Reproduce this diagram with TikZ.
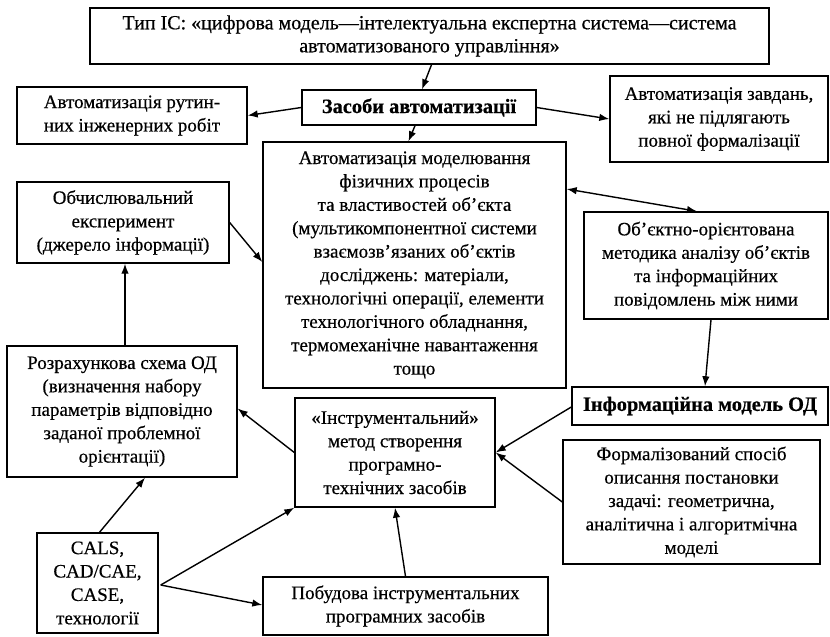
\documentclass[tikz,border=0pt]{standalone}
\usepackage{fontspec}
\setmainfont{Liberation Serif}[FakeBold=0.5]
\usetikzlibrary{arrows.meta,calc}
\begin{document}
\begin{tikzpicture}[x=1pt,y=-1pt,
  box/.style={draw, line width=1.4pt, align=center, inner sep=1pt,
    font=\fontsize{19}{23.4}\selectfont},
  bbox/.style={box, font=\fontsize{20.4}{24}\selectfont\bfseries},
  arr/.style={-{Latex[length=10pt,width=7.5pt]}, line width=1.4pt},
  darr/.style={{Latex[length=10pt,width=7.5pt]}-{Latex[length=10pt,width=7.5pt]}, line width=1.4pt}]
\useasboundingbox[fill=white] (0,0) rectangle (830,637);

\node[box, minimum width=679, minimum height=56,
  font=\fontsize{20}{23}\selectfont] (top) at (429.5,36)
  {Тип ІС: «цифрова модель—інтелектуальна експертна система—система\\автоматизованого управління»};
\node[bbox, minimum width=234, minimum height=35] (zasoby) at (419,107.5)
  {Засоби автоматизації};
\node[box, minimum width=230, minimum height=57] (rutyn) at (132,115.5)
  {Автоматизація рутин-\\них інженерних робіт};
\node[box, minimum width=218, minimum height=86] (zavd) at (719,119)
  {Автоматизація завдань,\\які не підлягають\\повної формалізації};
\node[box, minimum width=303, minimum height=246] (central) at (414.5,265)
  {Автоматизація моделювання\\фізичних процесів\\та властивостей об’єкта\\(мультикомпонентної системи\\взаємозв’язаних об’єктів\\досліджень: матеріали,\\технологічні операції, елементи\\технологічного обладнання,\\термомеханічне навантаження\\тощо};
\node[box, minimum width=212, minimum height=81] (obch) at (123,222.5)
  {Обчислювальний\\експеримент\\(джерело інформації)};
\node[box, minimum width=244, minimum height=107] (obj) at (706,265.5)
  {Об’єктно-орієнтована\\методика аналізу об’єктів\\та інформаційних\\повідомлень між ними};
\node[box, minimum width=230, minimum height=131] (rozr) at (122,411.5)
  {Розрахункова схема ОД\\(визначення набору\\параметрів відповідно\\заданої проблемної\\орієнтації)};
\node[bbox, minimum width=256, minimum height=38] (inf) at (700,406)
  {Інформаційна модель ОД};
\node[box, minimum width=200, minimum height=109] (instr) at (395,452.5)
  {«Інструментальний»\\метод створення\\програмно-\\технічних засобів};
\node[box, minimum width=257, minimum height=124] (formal) at (691.5,502)
  {Формалізований спосіб\\описання постановки\\задачі: геометрична,\\аналітична і алгоритмічна\\моделі};
\node[box, minimum width=121, minimum height=100] (cals) at (97.5,583)
  {CALS,\\CAD/CAE,\\CASE,\\технології};
\node[box, minimum width=285, minimum height=58] (pobud) at (405.5,606)
  {Побудова інструментальних\\програмних засобів};

\draw[arr] ($(top.south)+(2,0)$) -- ($(zasoby.north)+(3,0)$);
\draw[arr] (zasoby.west) -- (rutyn.east);
\draw[arr] (zasoby.east) -- (zavd.west);
\draw[arr] ($(zasoby.south)+(-4,0)$) -- ($(central.north)+(-6,0)$);
\draw[arr] (obch.east) -- ($(central.west)+(0,-3)$);
\draw[darr] ($(central.east)+(0,-76)$) -- ($(obj.north)+(-9,0)$);
\draw[arr] ($(obj.south)+(5,0)$) -- ($(inf.north)+(5,0)$);
\draw[arr] ($(inf.west)+(0,1)$) -- (instr.east);
\draw[arr] (formal.west) -- (instr.east);
\draw[arr] (instr.west) -- ($(rozr.east)+(0,-3)$);
\draw[arr] ($(rozr.north)+(3,0)$) -- ($(obch.south)+(2,0)$);
\draw[arr] ($(cals.north)+(2,0)$) -- ($(rozr.south)+(23,0)$);
\coordinate (calsout) at ($(cals.east)+(2,2)$);
\draw[arr] (calsout) -- (instr.south west);
\draw[arr] (calsout) -- ($(pobud.west)+(0,-1)$);
\draw[arr] (pobud.north) -- (instr.south);
\end{tikzpicture}
\end{document}
